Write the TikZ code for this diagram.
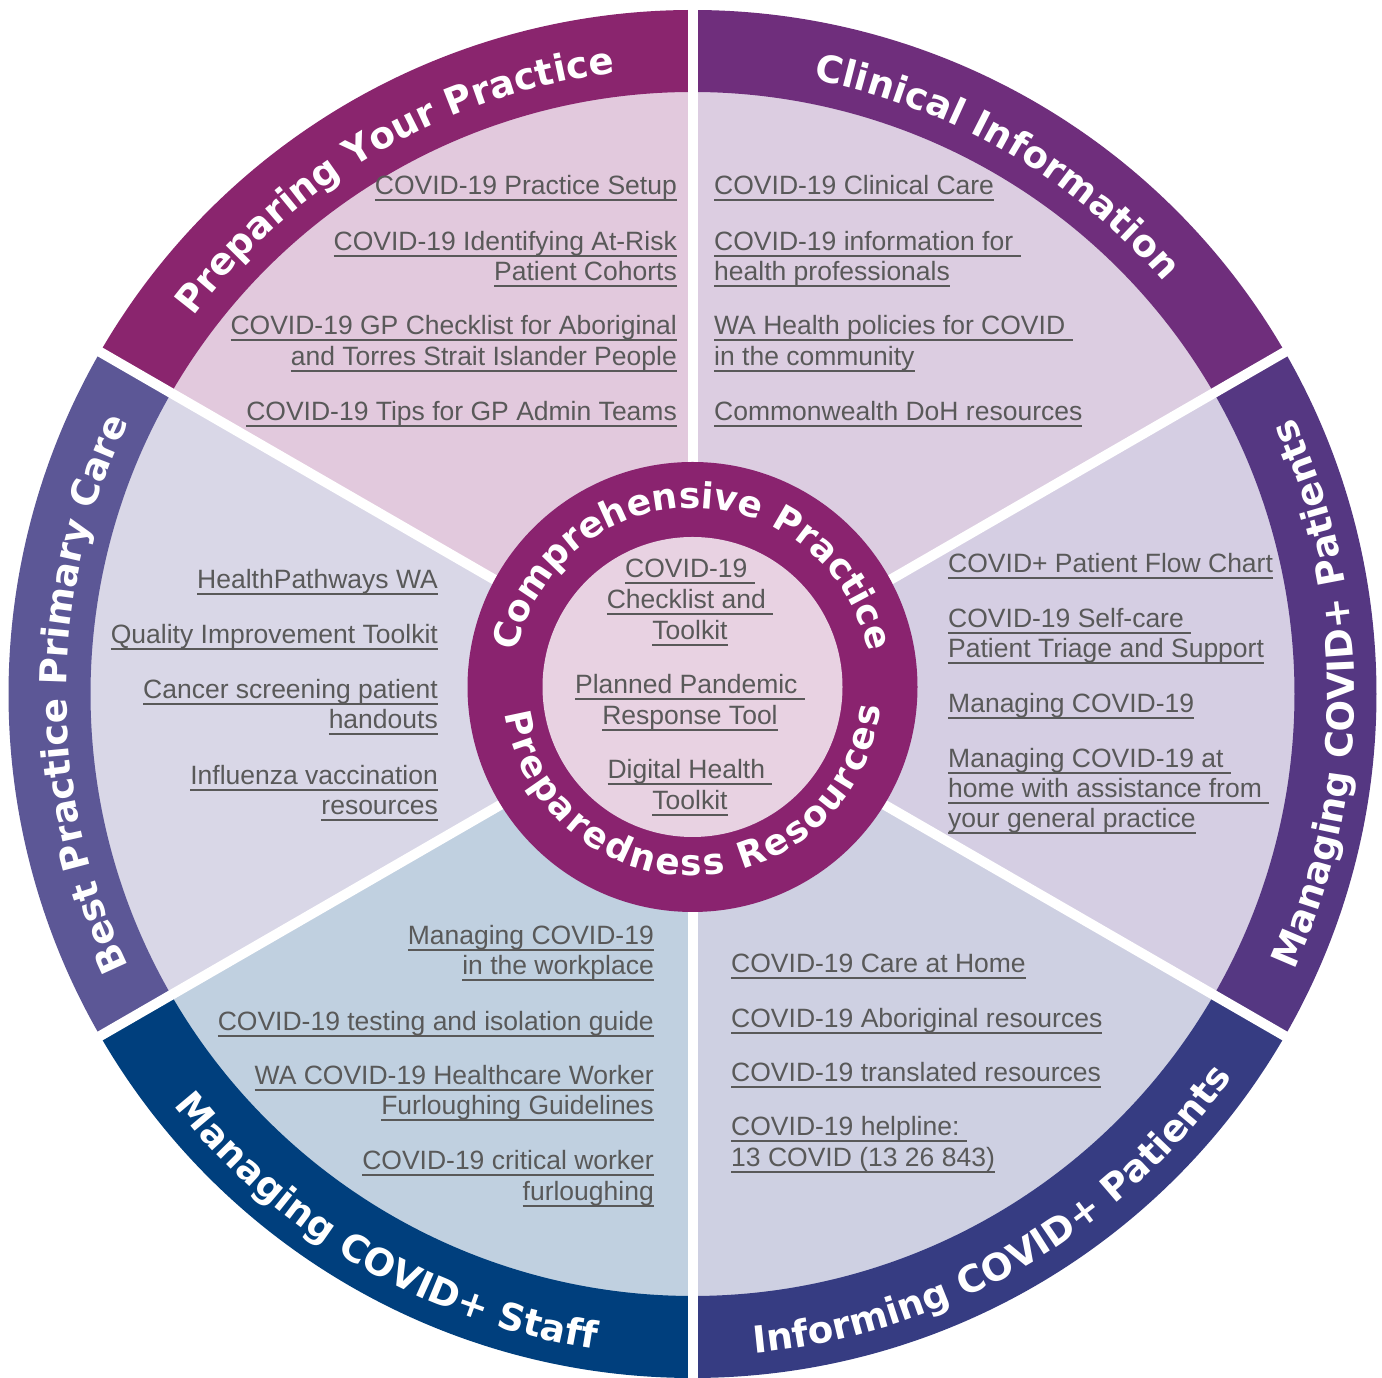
\documentclass[tikz,border=0pt]{standalone}
\usepackage{fontspec}
\setmainfont{Liberation Sans}
\newfontfamily\bandfam{DejaVu Sans}
\usetikzlibrary{decorations.text}

\definecolor{bandA}{HTML}{8A256E}
\definecolor{paleA}{HTML}{E2C9DD}
\definecolor{bandB}{HTML}{6F2E7C}
\definecolor{paleB}{HTML}{DCCDE1}
\definecolor{bandC}{HTML}{553782}
\definecolor{paleC}{HTML}{D5CEE3}
\definecolor{bandD}{HTML}{363C82}
\definecolor{paleD}{HTML}{CED0E2}
\definecolor{bandE}{HTML}{003F7D}
\definecolor{paleE}{HTML}{C0D0E0}
\definecolor{bandF}{HTML}{5C5796}
\definecolor{paleF}{HTML}{D9D7E7}
\definecolor{hubring}{HTML}{8A236F}
\definecolor{hubfill}{HTML}{E8D2E2}
\definecolor{txtgray}{HTML}{595959}

\newsavebox\lnkbox
\newcommand\lnk[1]{\sbox\lnkbox{#1}\rlap{\rule[-6pt]{\wd\lnkbox}{2pt}}\usebox\lnkbox}
\newcommand\bandfont{\bandfam\bfseries\fontsize{37.2}{40}\selectfont}
\newcommand\hubfont{\bandfam\bfseries\fontsize{36}{40}\selectfont}
\newcommand\wheelsector[4]{%
  \fill[#3] (0,0) -- (#1:603) arc[start angle=#1,end angle=#2,radius=603] -- cycle;
  \fill[#4] (#1:602) arc[start angle=#1,end angle=#2,radius=602] -- (#2:684) arc[start angle=#2,end angle=#1,radius=684] -- cycle;}

\tikzset{
  itm/.style={font=\fontsize{26.5}{30.5}\selectfont, text=txtgray, inner sep=0pt},
  gap/.style={white, line width=10pt},
  bandtxt/.style={decorate, decoration={text along path, text align=center, text color=white, text={|\bandfont|#1}}},
  hubtxt/.style={decorate, decoration={text along path, text align=center, text color=white, text={|\hubfont|#1}}},
  hubfit/.style={decorate, decoration={text along path, text align=fit to path, text color=white, text={|\hubfont|#1}}},
}

\begin{document}
\begin{tikzpicture}[x=1pt,y=1pt]
\fill[white] (0,0) rectangle (1382,1378);
\useasboundingbox (0,0) rectangle (1382,1378);

\begin{scope}[shift={(692.5,684)}]
  \coordinate (O) at (0,0);
  \wheelsector{90}{150}{paleA}{bandA}
  \wheelsector{30}{90}{paleB}{bandB}
  \wheelsector{-30}{30}{paleC}{bandC}
  \wheelsector{-90}{-30}{paleD}{bandD}
  \wheelsector{210}{270}{paleE}{bandE}
  \wheelsector{150}{210}{paleF}{bandF}
  \foreach \a/\n in {90/g1,30/g2,-30/g3,-90/g4,210/g5,150/g6}
    \coordinate (\n) at (\a:700);
  \foreach \n in {g1,g2,g3,g4,g5,g6}
    \draw[gap] (O) -- (\n);
  % band titles
  \path[bandtxt=Preparing Your Practice] (150:626) arc[start angle=150,end angle=90,radius=626];
  \path[bandtxt=Clinical Information] (90:626) arc[start angle=90,end angle=30,radius=626];
  \path[bandtxt=Best Practice Primary Care] (210:626) arc[start angle=210,end angle=150,radius=626];
  \path[bandtxt=Managing COVID+ Patients] (-30:662) arc[start angle=-30,end angle=30,radius=662];
  \path[bandtxt=Informing COVID+ Patients] (-90:662) arc[start angle=-90,end angle=-30,radius=662];
  \path[bandtxt=Managing COVID+ Staff] (210:662) arc[start angle=210,end angle=270,radius=662];
\end{scope}

\begin{scope}[shift={(692.5,691)}]
  \fill[hubring] (0,0) circle[radius=225];
  \fill[hubfill] (0,0) circle[radius=150];
  \path[hubtxt=Comprehensive Practice] (180:179) arc[start angle=180,end angle=0,radius=179];
  \path[hubfit=Preparedness Resources] (188:189) arc[start angle=188,end angle=354,radius=189];
\end{scope}

% Preparing Your Practice
\node[itm, anchor=base east] (a1) at (677,1183) {\lnk{COVID-19 Practice Setup}};
\node[itm, anchor=base east] (a2) at (677,1127) {\lnk{COVID-19 Identifying At-Risk}};
\node[itm, anchor=base east] (a3) at (677,1097) {\lnk{Patient Cohorts}};
\node[itm, anchor=base east] (a4) at (677,1043) {\lnk{COVID-19 GP Checklist for Aboriginal}};
\node[itm, anchor=base east] (a5) at (677,1012) {\lnk{and Torres Strait Islander People}};
\node[itm, anchor=base east] (a6) at (677,957) {\lnk{COVID-19 Tips for GP Admin Teams}};

% Clinical Information
\node[itm, anchor=base west] (b1) at (714,1183) {\lnk{COVID-19 Clinical Care}};
\node[itm, anchor=base west] (b2) at (714,1127) {\lnk{COVID-19 information for\ }};
\node[itm, anchor=base west] (b3) at (714,1097) {\lnk{health professionals}};
\node[itm, anchor=base west] (b4) at (714,1043) {\lnk{WA Health policies for COVID\ }};
\node[itm, anchor=base west] (b5) at (714,1012) {\lnk{in the community}};
\node[itm, anchor=base west] (b6) at (714,957) {\lnk{Commonwealth DoH resources}};

% Managing COVID+ Patients
\node[itm, anchor=base west] (c1) at (948,805) {\lnk{COVID+ Patient Flow Chart}};
\node[itm, anchor=base west] (c2) at (948,750) {\lnk{COVID-19 Self-care\ }};
\node[itm, anchor=base west] (c3) at (948,720) {\lnk{Patient Triage and Support}};
\node[itm, anchor=base west] (c4) at (948,665) {\lnk{Managing COVID-19}};
\node[itm, anchor=base west] (c5) at (948,610) {\lnk{Managing COVID-19 at\ }};
\node[itm, anchor=base west] (c6) at (948,580) {\lnk{home with assistance from\ }};
\node[itm, anchor=base west] (c7) at (948,550) {\lnk{your general practice}};

% Informing COVID+ Patients
\node[itm, anchor=base west] (d1) at (731,405) {\lnk{COVID-19 Care at Home}};
\node[itm, anchor=base west] (d2) at (731,350) {\lnk{COVID-19 Aboriginal resources}};
\node[itm, anchor=base west] (d3) at (731,296) {\lnk{COVID-19 translated resources}};
\node[itm, anchor=base west] (d4) at (731,242) {\lnk{COVID-19 helpline:\ }};
\node[itm, anchor=base west] (d5) at (731,211) {\lnk{13 COVID (13 26 843)}};

% Managing COVID+ Staff
\node[itm, anchor=base east] (e1) at (654,433) {\lnk{Managing COVID-19}};
\node[itm, anchor=base east] (e2) at (654,403) {\lnk{in the workplace}};
\node[itm, anchor=base east] (e3) at (654,347) {\lnk{COVID-19 testing and isolation guide}};
\node[itm, anchor=base east] (e4) at (654,293) {\lnk{WA COVID-19 Healthcare Worker}};
\node[itm, anchor=base east] (e5) at (654,263) {\lnk{Furloughing Guidelines}};
\node[itm, anchor=base east] (e6) at (654,208) {\lnk{COVID-19 critical worker}};
\node[itm, anchor=base east] (e7) at (654,177) {\lnk{furloughing}};

% Best Practice Primary Care
\node[itm, anchor=base east] (f1) at (438,789) {\lnk{HealthPathways WA}};
\node[itm, anchor=base east] (f2) at (438,734) {\lnk{Quality Improvement Toolkit}};
\node[itm, anchor=base east] (f3) at (438,679) {\lnk{Cancer screening patient}};
\node[itm, anchor=base east] (f4) at (438,649) {\lnk{handouts}};
\node[itm, anchor=base east] (f5) at (438,593) {\lnk{Influenza vaccination}};
\node[itm, anchor=base east] (f6) at (438,563) {\lnk{resources}};

% Hub
\node[itm, anchor=base] (h1) at (690,800) {\lnk{COVID-19\ }};
\node[itm, anchor=base] (h2) at (690,769) {\lnk{Checklist and\ }};
\node[itm, anchor=base] (h3) at (690,738) {\lnk{Toolkit}};
\node[itm, anchor=base] (h4) at (690,684) {\lnk{Planned Pandemic\ }};
\node[itm, anchor=base] (h5) at (690,653) {\lnk{Response Tool}};
\node[itm, anchor=base] (h6) at (690,599) {\lnk{Digital Health\ }};
\node[itm, anchor=base] (h7) at (690,568) {\lnk{Toolkit}};
\end{tikzpicture}
\end{document}
